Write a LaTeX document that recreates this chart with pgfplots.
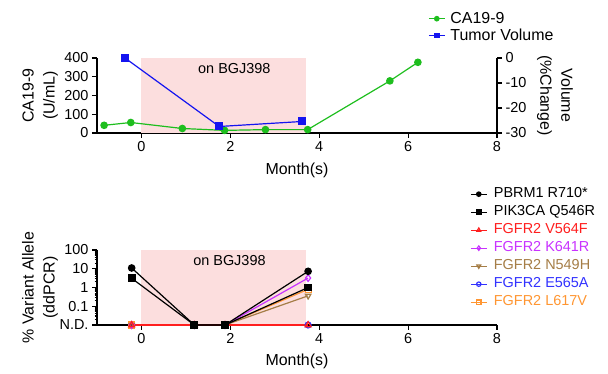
\documentclass[border=0pt]{standalone}
\usepackage{fontspec}
\setmainfont{Liberation Sans}
\usepackage{pgfplots}
\pgfplotsset{compat=1.18}
\definecolor{cgreen}{RGB}{30,190,30}
\definecolor{cblue}{RGB}{20,20,240}
\definecolor{shade}{RGB}{252,222,222}
\definecolor{cred}{RGB}{255,30,30}
\definecolor{cmag}{RGB}{200,50,255}
\definecolor{cbrown}{RGB}{165,125,70}
\definecolor{cblue2}{RGB}{50,50,255}
\definecolor{corange}{RGB}{255,150,50}
\pgfplotsset{
  base/.style={
    scale only axis, width=400bp, height=75bp,
    xmin=-1, xmax=8, xtick={0,2,4,6,8},
    axis x line*=bottom, axis y line*=left,
    tick align=outside, major tick length=5bp, minor tick length=2.5bp,
    axis line style={line width=1.3bp, black},
    every tick/.style={line width=1.2bp, black},
    tick label style={font=\fontsize{14.5}{16}\selectfont},
    label style={font=\fontsize{16}{21}\selectfont, align=center},
    /pgf/number format/assume math mode=true,
    clip=false,
  },
  lg/.style={
    legend cell align=left,
    legend image code/.code={\draw[mark repeat=2,mark phase=2,##1, mark size=2.2bp] plot coordinates {(0bp,0bp)(8bp,0bp)(16bp,0bp)};},
  }
}
\begin{document}
\begin{tikzpicture}
\useasboundingbox (0,0) rectangle (608bp,374bp);
% ---------- top panel ----------
\begin{axis}[base, at={(97bp,241bp)}, anchor=south west,
  ymin=0, ymax=400, ytick={0,100,200,300,400},
  xlabel={Month(s)}, xlabel style={at={(axis description cs:0.5,-0.56)}, anchor=base},
  ylabel={CA19-9\\(U/mL)}, ylabel style={at={(axis description cs:-0.142,0.5)}, anchor=center}]
\addplot[fill=shade, draw=none, forget plot] coordinates {(0,0)(0,400)(3.7,400)(3.7,0)} -- cycle;
\node[font=\fontsize{14.5}{16}\selectfont] at (axis cs:2.09,346) {on BGJ398};
\addplot[cgreen, line width=1.2bp, mark=*, mark size=3.2bp] coordinates {(-0.84,41)(-0.24,56)(0.92,24)(1.87,14)(2.79,18)(3.74,18)(5.59,278)(6.22,377)};
\end{axis}
\begin{axis}[base, lg, at={(97bp,241bp)}, anchor=south west,
  ymin=-30, ymax=0, ytick={-30,-20,-10,0},
  axis y line*=right, axis x line=none,
  ylabel={Volume\\(\%Change)}, ylabel style={at={(axis description cs:1.145,0.5)}, anchor=center, rotate=180},
  legend style={at={(axis description cs:0.8275,1.64)}, anchor=north west, draw=none, fill=none,
    font=\fontsize{16}{18}\selectfont, inner sep=0pt,
    /tikz/every odd column/.append style={column sep=3bp},
    nodes={inner sep=2bp, text height=11bp, text depth=2bp}}]
\addlegendimage{cgreen, line width=1.2bp, mark=*}
\addlegendentry{CA19-9}
\addplot[cblue, line width=1.2bp, mark=square*, mark size=3.4bp] coordinates {(-0.37,0)(1.75,-27.4)(3.61,-25.4)};
\addlegendentry{Tumor Volume}
\end{axis}
% ---------- bottom panel ----------
\begin{axis}[base, lg, at={(97bp,49bp)}, anchor=south west,
  ymode=log, ymin=0.01, ymax=100, ytick={0.01,0.1,1,10,100}, yticklabels={N.D.,0.1,1,10,100},
  xlabel={Month(s)}, xlabel style={at={(axis description cs:0.5,-0.54)}, anchor=base},
  ylabel={\% Variant Allele\\(ddPCR)}, ylabel style={at={(axis description cs:-0.1425,0.5)}, anchor=center},
  legend style={at={(axis description cs:0.9325,1.867)}, anchor=north west, draw=none, fill=none,
    font=\fontsize{14.5}{16}\selectfont, inner sep=0pt,
    /tikz/every odd column/.append style={column sep=4bp},
    nodes={inner sep=2.5bp, text height=10bp, text depth=3bp}}]
\addplot[fill=shade, draw=none, forget plot] coordinates {(0,0.01)(0,100)(3.7,100)(3.7,0.01)} -- cycle;
\node[font=\fontsize{14.5}{16}\selectfont] at (axis cs:1.98,27.5) {on BGJ398};
\addplot[cblue2, line width=1.2bp, mark=o, mark size=3bp, mark options={fill=white}, forget plot] coordinates {(-0.22,0.01)(1.19,0.01)(1.88,0.01)(3.75,0.01)};
\addplot[corange, line width=1.2bp, mark=square, mark size=3bp, mark options={fill=white}, forget plot] coordinates {(-0.22,0.01)(1.19,0.01)(1.88,0.01)(3.75,0.8)};
\addplot[cbrown, line width=1.2bp, mark=triangle, mark size=3.2bp, mark options={fill=white, rotate=180}, forget plot] coordinates {(-0.22,0.01)(1.19,0.01)(1.88,0.01)(3.75,0.36)};
\addplot[cmag, line width=1.2bp, mark=diamond, mark size=3.4bp, mark options={fill=white}, forget plot] coordinates {(-0.22,0.01)(1.19,0.01)(1.88,0.01)(3.75,3.2)};
\addplot[cred, line width=1.2bp, mark=triangle, mark size=3.4bp, mark options={fill=white}, forget plot] coordinates {(-0.22,0.01)(1.19,0.01)(1.88,0.01)(3.75,0.01)};
\addplot[black, line width=1.2bp, mark=square*, mark size=3.3bp, forget plot] coordinates {(-0.22,3.1)(1.19,0.01)(1.88,0.01)(3.75,1.0)};
\addplot[black, line width=1.2bp, mark=*, mark size=3.2bp, forget plot] coordinates {(-0.22,11)(1.19,0.01)(1.88,0.01)(3.75,7.3)};
\addlegendimage{black, line width=1.2bp, mark=*}
\addlegendentry{PBRM1 R710*}
\addlegendimage{black, line width=1.2bp, mark=square*}
\addlegendentry{PIK3CA Q546R}
\addlegendimage{cred, line width=1.2bp, mark=triangle, mark options={fill=white}}
\addlegendentry[text=cred]{FGFR2 V564F}
\addlegendimage{cmag, line width=1.2bp, mark=diamond, mark options={fill=white}}
\addlegendentry[text=cmag]{FGFR2 K641R}
\addlegendimage{cbrown, line width=1.2bp, mark=triangle, mark options={fill=white, rotate=180}}
\addlegendentry[text=cbrown]{FGFR2 N549H}
\addlegendimage{cblue2, line width=1.2bp, mark=o, mark options={fill=white}}
\addlegendentry[text=cblue2]{FGFR2 E565A}
\addlegendimage{corange, line width=1.2bp, mark=square, mark options={fill=white}}
\addlegendentry[text=corange]{FGFR2 L617V}
\end{axis}
\end{tikzpicture}
\end{document}
